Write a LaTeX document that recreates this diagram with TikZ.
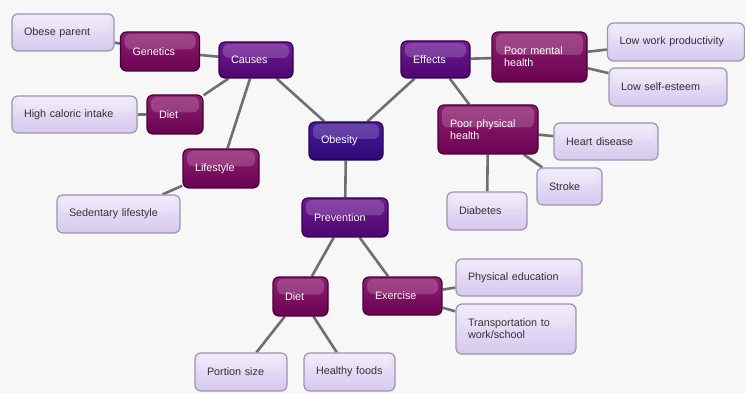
\documentclass[tikz,border=0pt]{standalone}
\usepackage{fontspec}
\setmainfont{Liberation Sans}
\usetikzlibrary{backgrounds}

\definecolor{bgpaper}{HTML}{F7F7F7}
\definecolor{linkgray}{HTML}{6F6F6F}
\definecolor{plumtop}{HTML}{8E1E72}
\definecolor{plumbot}{HTML}{6A0350}
\definecolor{plumline}{HTML}{45003A}
\definecolor{violtop}{HTML}{6E1C96}
\definecolor{violbot}{HTML}{4E066E}
\definecolor{violline}{HTML}{33004A}
\definecolor{indtop}{HTML}{4A1A9C}
\definecolor{indbot}{HTML}{2E0A74}
\definecolor{indline}{HTML}{1E0650}
\definecolor{lavtop}{HTML}{EEE8FA}
\definecolor{lavbot}{HTML}{D6C9EF}
\definecolor{lavline}{HTML}{9C94AC}

\tikzset{
  gloss/.style={path picture={\fill[white,opacity=.18,rounded corners=6pt]
    ([xshift=4pt,yshift=-2pt]path picture bounding box.north west) rectangle
    ([xshift=-4pt,yshift=2pt]path picture bounding box.east);}},
  card/.style={rectangle,rounded corners=6pt,line width=1.2pt,inner xsep=12pt,inner ysep=0pt,
    align=left,font=\fontsize{10.8}{12}\selectfont,gloss},
  plum/.style={card,top color=plumtop,bottom color=plumbot,draw=plumline,text=white},
  viol/.style={card,top color=violtop,bottom color=violbot,draw=violline,text=white},
  ind/.style={card,top color=indtop,bottom color=indbot,draw=indline,text=white},
  lav/.style={card,top color=lavtop,bottom color=lavbot,draw=lavline,text=black!80},
  link/.style={draw=linkgray,line width=2.6pt}
}

\begin{document}
\begin{tikzpicture}[x=1pt,y=-1pt]
\useasboundingbox (0,0) rectangle (745,393);

% centre and branches
\node[ind,text width=50pt,minimum height=38pt] (obesity) at (346,141) {Obesity};
\node[viol,text width=50pt,minimum height=36pt] (causes) at (256,60) {Causes};
\node[viol,text width=45pt,minimum height=37pt] (effects) at (435.5,59.5) {Effects};
\node[viol,text width=62pt,minimum height=39pt] (prevention) at (345,217.5) {Prevention};

% causes
\node[plum,text width=55pt,minimum height=39pt] (genetics) at (160,51.5) {Genetics};
\node[plum,text width=32pt,minimum height=39pt] (dietc) at (175,114.5) {Diet};
\node[plum,text width=52pt,minimum height=39pt] (lifestyle) at (221,168.5) {Lifestyle};
\node[lav,text width=78pt,minimum height=37pt] (obese) at (63,32.5) {Obese parent};
\node[lav,text width=101pt,minimum height=37pt] (caloric) at (74.5,114.5) {High caloric intake};
\node[lav,text width=99pt,minimum height=38pt] (sedentary) at (118.5,214) {Sedentary lifestyle};

% effects
\node[plum,text width=71pt,minimum height=50pt] (mental) at (539.5,57) {Poor mental\\health};
\node[plum,text width=76pt,minimum height=49pt] (physical) at (488,129.5) {Poor physical\\health};
\node[lav,text width=113pt,minimum height=38pt] (lowwork) at (676,42) {Low work productivity};
\node[lav,text width=94pt,minimum height=38pt] (selfesteem) at (668,87) {Low self-esteem};
\node[lav,text width=80pt,minimum height=37pt] (heart) at (606,141.5) {Heart disease};
\node[lav,text width=41pt,minimum height=37pt] (stroke) at (569.5,186.5) {Stroke};
\node[lav,text width=56pt,minimum height=38pt] (diabetes) at (487,211) {Diabetes};

% prevention
\node[plum,text width=31pt,minimum height=39pt] (dietp) at (300.5,296.5) {Diet};
\node[plum,text width=55pt,minimum height=38pt] (exercise) at (402.5,296) {Exercise};
\node[lav,text width=68pt,minimum height=38pt] (portion) at (241,372) {Portion size};
\node[lav,text width=67pt,minimum height=38pt] (healthy) at (349.5,372) {Healthy foods};
\node[lav,text width=102pt,minimum height=37pt] (physed) at (519,277.5) {Physical education};
\node[lav,text width=96pt,minimum height=50pt] (transport) at (516,329) {Transportation to\\work/school};

\begin{scope}[on background layer]
\fill[bgpaper] (0,0) rectangle (745,393);
\draw[link] (obesity) -- (causes);
\draw[link] (obesity) -- (effects);
\draw[link] (obesity) -- (prevention);
\draw[link] (causes) -- (genetics);
\draw[link] (genetics) -- (obese);
\draw[link] (causes) -- (dietc);
\draw[link] (dietc) -- (caloric);
\draw[link] (causes) -- (lifestyle);
\draw[link] (lifestyle) -- (sedentary);
\draw[link] (effects) -- (mental);
\draw[link] (mental) -- (lowwork);
\draw[link] (mental) -- (selfesteem);
\draw[link] (effects) -- (physical);
\draw[link] (physical) -- (heart);
\draw[link] (physical) -- (stroke);
\draw[link] (physical) -- (diabetes);
\draw[link] (prevention) -- (dietp);
\draw[link] (dietp) -- (portion);
\draw[link] (dietp) -- (healthy);
\draw[link] (prevention) -- (exercise);
\draw[link] (exercise) -- (physed);
\draw[link] (exercise) -- (transport);
\end{scope}

\end{tikzpicture}
\end{document}
